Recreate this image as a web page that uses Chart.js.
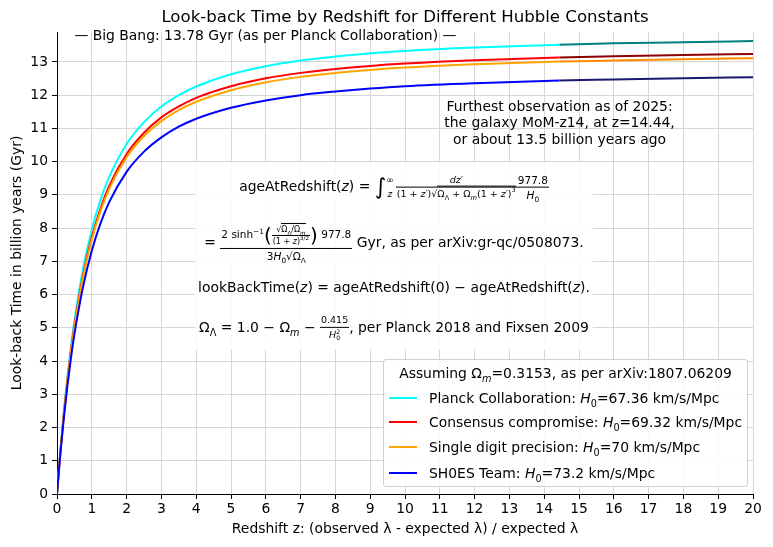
<!DOCTYPE html>
<html>
<head>
<meta charset="utf-8">
<script src="https://cdn.jsdelivr.net/npm/chart.js@4.4.1/dist/chart.umd.min.js"></script>
<style>
  body { margin: 0; background: #fff; }
  #wrap { position: relative; width: 773px; height: 547px; font-family: "DejaVu Sans", sans-serif; color: #000; }
  #chart { position: absolute; left: 0; top: 0; }
  .fbox { position: absolute; left: 195px; top: 162px; width: 398px; height: 188px; background: rgba(255,255,255,0.88); }
  .row { position: absolute; left: 0; width: 100%; text-align: center; white-space: nowrap; font-size: 13.9px; line-height: 1; transform: translateY(-50%); }
  .frac { display: inline-flex; flex-direction: column; vertical-align: middle; text-align: center; font-size: 9.5px; line-height: 1.15; }
  .frac > span:first-child { border-bottom: 1px solid #000; padding: 0 1px 1px; }
  .frac > span:last-child { padding: 1px 1px 0; }
  .frac .frac { font-size: 8px; }
  .big { font-size: 10.5px; }
  .ov { border-top: 1px solid #000; padding-top: 1px; }
  sub, sup { font-size: 70%; line-height: 0; }
  .ss { display: inline-flex; flex-direction: column; vertical-align: middle; font-size: 65%; line-height: 1; }
  .int { font-size: 22px; vertical-align: middle; }
  .lim { display: inline-flex; flex-direction: column; vertical-align: middle; font-size: 9px; line-height: 1.6; margin-right: 2px; }
  .par { font-size: 20px; vertical-align: middle; }
  .legend { position: absolute; left: 383px; top: 359px; width: 363px; height: 126px; border: 1px solid #d0d0d0; border-radius: 3px; background: rgba(255,255,255,0.85); font-size: 13.9px; }
  .legend .ttl { position: absolute; left: 0; width: 100%; top: 13px; text-align: center; transform: translateY(-50%); white-space: nowrap; }
  .legend .item { position: absolute; left: 0; white-space: nowrap; transform: translateY(-50%); }
  .legend .sw { position: absolute; left: 5px; top: 50%; width: 28px; height: 2px; margin-top: -1px; }
  .legend .lbl { position: absolute; left: 45px; top: 0; transform: translateY(-50%); }
</style>
</head>
<body>
<div id="wrap">
  <canvas id="chart" width="773" height="547"></canvas>

  <div class="fbox">
    <div class="row" style="top:25px">ageAtRedshift(<i>z</i>) = <span class="int">∫</span><span class="lim"><span>∞</span><span><i>z</i></span></span><span class="frac"><span><i>dz′</i></span><span>(1 + <i>z′</i>)√<span class="ov">Ω<sub>Λ</sub> + Ω<sub><i>m</i></sub>(1 + <i>z′</i>)<sup>3</sup></span></span></span><span class="frac big"><span>977.8</span><span><i>H</i><sub>0</sub></span></span></div>
    <div class="row" style="top:81px">= <span class="frac big"><span>2 sinh<sup>−1</sup><span class="par">(</span><span class="frac"><span>√<span class="ov">Ω<sub>Λ</sub>/Ω<sub><i>m</i></sub></span></span><span>(1 + <i>z</i>)<sup>3/2</sup></span></span><span class="par">)</span> 977.8</span><span>3<i>H</i><sub>0</sub>√<span class="ov">Ω<sub>Λ</sub></span></span></span> Gyr, as per arXiv:gr-qc/0508073.</div>
    <div class="row" style="top:126px">lookBackTime(<i>z</i>) = ageAtRedshift(0) − ageAtRedshift(<i>z</i>).</div>
    <div class="row" style="top:166px">Ω<sub>Λ</sub> = 1.0 − Ω<sub><i>m</i></sub> − <span class="frac"><span>0.415</span><span><i>H</i><span class="ss"><span>2</span><span>0</span></span></span></span>, per Planck 2018 and Fixsen 2009</div>
  </div>

  <div class="legend" id="legend">
    <div class="ttl">Assuming Ω<sub><i>m</i></sub>=0.3153, as per arXiv:1807.06209</div>
  </div>
</div>

<script>
// redshift sample points (z) and look-back times in Gyr
const redshifts = [0, 0.05, 0.1, 0.2, 0.3, 0.4, 0.5, 0.75, 1, 1.25, 1.5, 2, 2.5, 3, 3.5, 4, 5, 6, 7, 8, 9, 10, 12, 14.44, 16, 18, 20];

const planck      = [0, 0.70, 1.35, 2.52, 3.54, 4.43, 5.21, 6.79, 7.96, 8.85, 9.54, 10.53, 11.19, 11.66, 12.00, 12.26, 12.63, 12.87, 13.04, 13.16, 13.26, 13.33, 13.43, 13.52, 13.56, 13.59, 13.63];
const consensus   = [0, 0.68, 1.31, 2.45, 3.44, 4.31, 5.07, 6.59, 7.73, 8.59, 9.27, 10.23, 10.87, 11.33, 11.66, 11.92, 12.27, 12.51, 12.67, 12.79, 12.88, 12.95, 13.05, 13.13, 13.17, 13.21, 13.24];
const singleDigit = [0, 0.67, 1.30, 2.43, 3.41, 4.27, 5.02, 6.53, 7.65, 8.51, 9.18, 10.13, 10.77, 11.22, 11.55, 11.80, 12.15, 12.39, 12.55, 12.67, 12.76, 12.83, 12.93, 13.01, 13.04, 13.08, 13.11];
const shoes       = [0, 0.64, 1.24, 2.32, 3.26, 4.08, 4.80, 6.24, 7.32, 8.14, 8.78, 9.69, 10.30, 10.73, 11.05, 11.29, 11.62, 11.84, 12.00, 12.11, 12.20, 12.27, 12.36, 12.44, 12.47, 12.51, 12.54];

const seriesNames = [
  'Planck Collaboration: <i>H</i><sub>0</sub>=67.36 km/s/Mpc',
  'Consensus compromise: <i>H</i><sub>0</sub>=69.32 km/s/Mpc',
  'Single digit precision: <i>H</i><sub>0</sub>=70 km/s/Mpc',
  'SH0ES Team: <i>H</i><sub>0</sub>=73.2 km/s/Mpc'
];
const seriesColors = ['#00ffff', '#ff0000', '#ffa500', '#0000ff'];
const beyondColors = ['#008080', '#8b0000', '#ff8c00', '#191970'];

const furthestZ = 14.44;
const bigBangAge = 13.78;
const yTicks = [0, 1, 2, 3, 4, 5, 6, 7, 8, 9, 10, 11, 12, 13];

const FONT = '"DejaVu Sans", sans-serif';

function points(vals) {
  return redshifts.map((z, i) => ({x: z, y: vals[i]}));
}

const allSeries = [planck, consensus, singleDigit, shoes];
const datasets = allSeries.map((vals, i) => ({
  label: seriesNames[i].replace(/<[^>]+>/g, ''),
  data: points(vals),
  borderColor: seriesColors[i],
  borderWidth: 2,
  pointRadius: 0,
  cubicInterpolationMode: 'monotone',
  order: 3 - i,
  segment: {
    borderColor: ctx => ctx.p0.parsed.x >= furthestZ - 1e-9 ? beyondColors[i] : seriesColors[i]
  }
}));

// html legend
const legend = document.getElementById('legend');
[38, 62, 87, 113].forEach((top, i) => {
  const item = document.createElement('div');
  item.className = 'item';
  item.style.top = top + 'px';
  item.innerHTML = '<span class="sw" style="background:' + seriesColors[i] + '"></span><span class="lbl">' + seriesNames[i] + '</span>';
  legend.appendChild(item);
});

const textPlugin = {
  id: 'texts',
  afterDraw(chart) {
    const {ctx, chartArea, scales: {x, y}} = chart;
    ctx.save();
    ctx.fillStyle = '#000';
    ctx.textBaseline = 'middle';

    ctx.font = '16.6px ' + FONT;
    ctx.textAlign = 'center';
    ctx.fillText('Look-back Time by Redshift for Different Hubble Constants', (chartArea.left + chartArea.right) / 2, 18);

    ctx.font = '13.9px ' + FONT;
    ctx.textAlign = 'left';
    ctx.fillText('— Big Bang: ' + bigBangAge + ' Gyr (as per Planck Collaboration) —', x.getPixelForValue(0.5), y.getPixelForValue(bigBangAge));

    ctx.textAlign = 'center';
    const fx = x.getPixelForValue(furthestZ);
    const fy = y.getPixelForValue(11.15);
    ctx.fillText('Furthest observation as of 2025:', fx, fy - 16.5);
    ctx.fillText('the galaxy MoM-z14, at z=' + furthestZ + ',', fx, fy);
    ctx.fillText('or about 13.5 billion years ago', fx, fy + 16.5);

    ctx.fillText('Redshift z: (observed λ - expected λ) / expected λ', (chartArea.left + chartArea.right) / 2, 529);

    ctx.translate(17, (chartArea.top + chartArea.bottom) / 2);
    ctx.rotate(-Math.PI / 2);
    ctx.fillText('Look-back Time in billion years (Gyr)', 0, 0);
    ctx.restore();
  }
};

new Chart(document.getElementById('chart'), {
  type: 'line',
  data: {datasets},
  options: {
    responsive: false,
    animation: false,
    layout: {padding: {top: 32, right: 20, left: 0, bottom: 0}},
    plugins: {legend: {display: false}, tooltip: {enabled: false}, title: {display: false}},
    scales: {
      x: {
        type: 'linear',
        min: 0,
        max: 20,
        afterFit: s => { s.height = 53; },
        ticks: {stepSize: 1, color: '#000', font: {family: FONT, size: 13.9}, padding: 2, maxRotation: 0, autoSkip: false},
        grid: {color: '#d6d6d6', lineWidth: 1, tickColor: '#000', tickLength: 5},
        border: {display: true, color: '#000', width: 1}
      },
      y: {
        type: 'linear',
        min: 0,
        max: 13.9,
        afterFit: s => { s.width = 57; },
        afterBuildTicks: s => { s.ticks = yTicks.map(v => ({value: v})); },
        ticks: {color: '#000', font: {family: FONT, size: 13.9}, padding: 4},
        grid: {color: '#d6d6d6', lineWidth: 1, tickColor: '#000', tickLength: 5},
        border: {display: true, color: '#000', width: 1}
      }
    }
  },
  plugins: [textPlugin]
});
</script>
</body>
</html>
